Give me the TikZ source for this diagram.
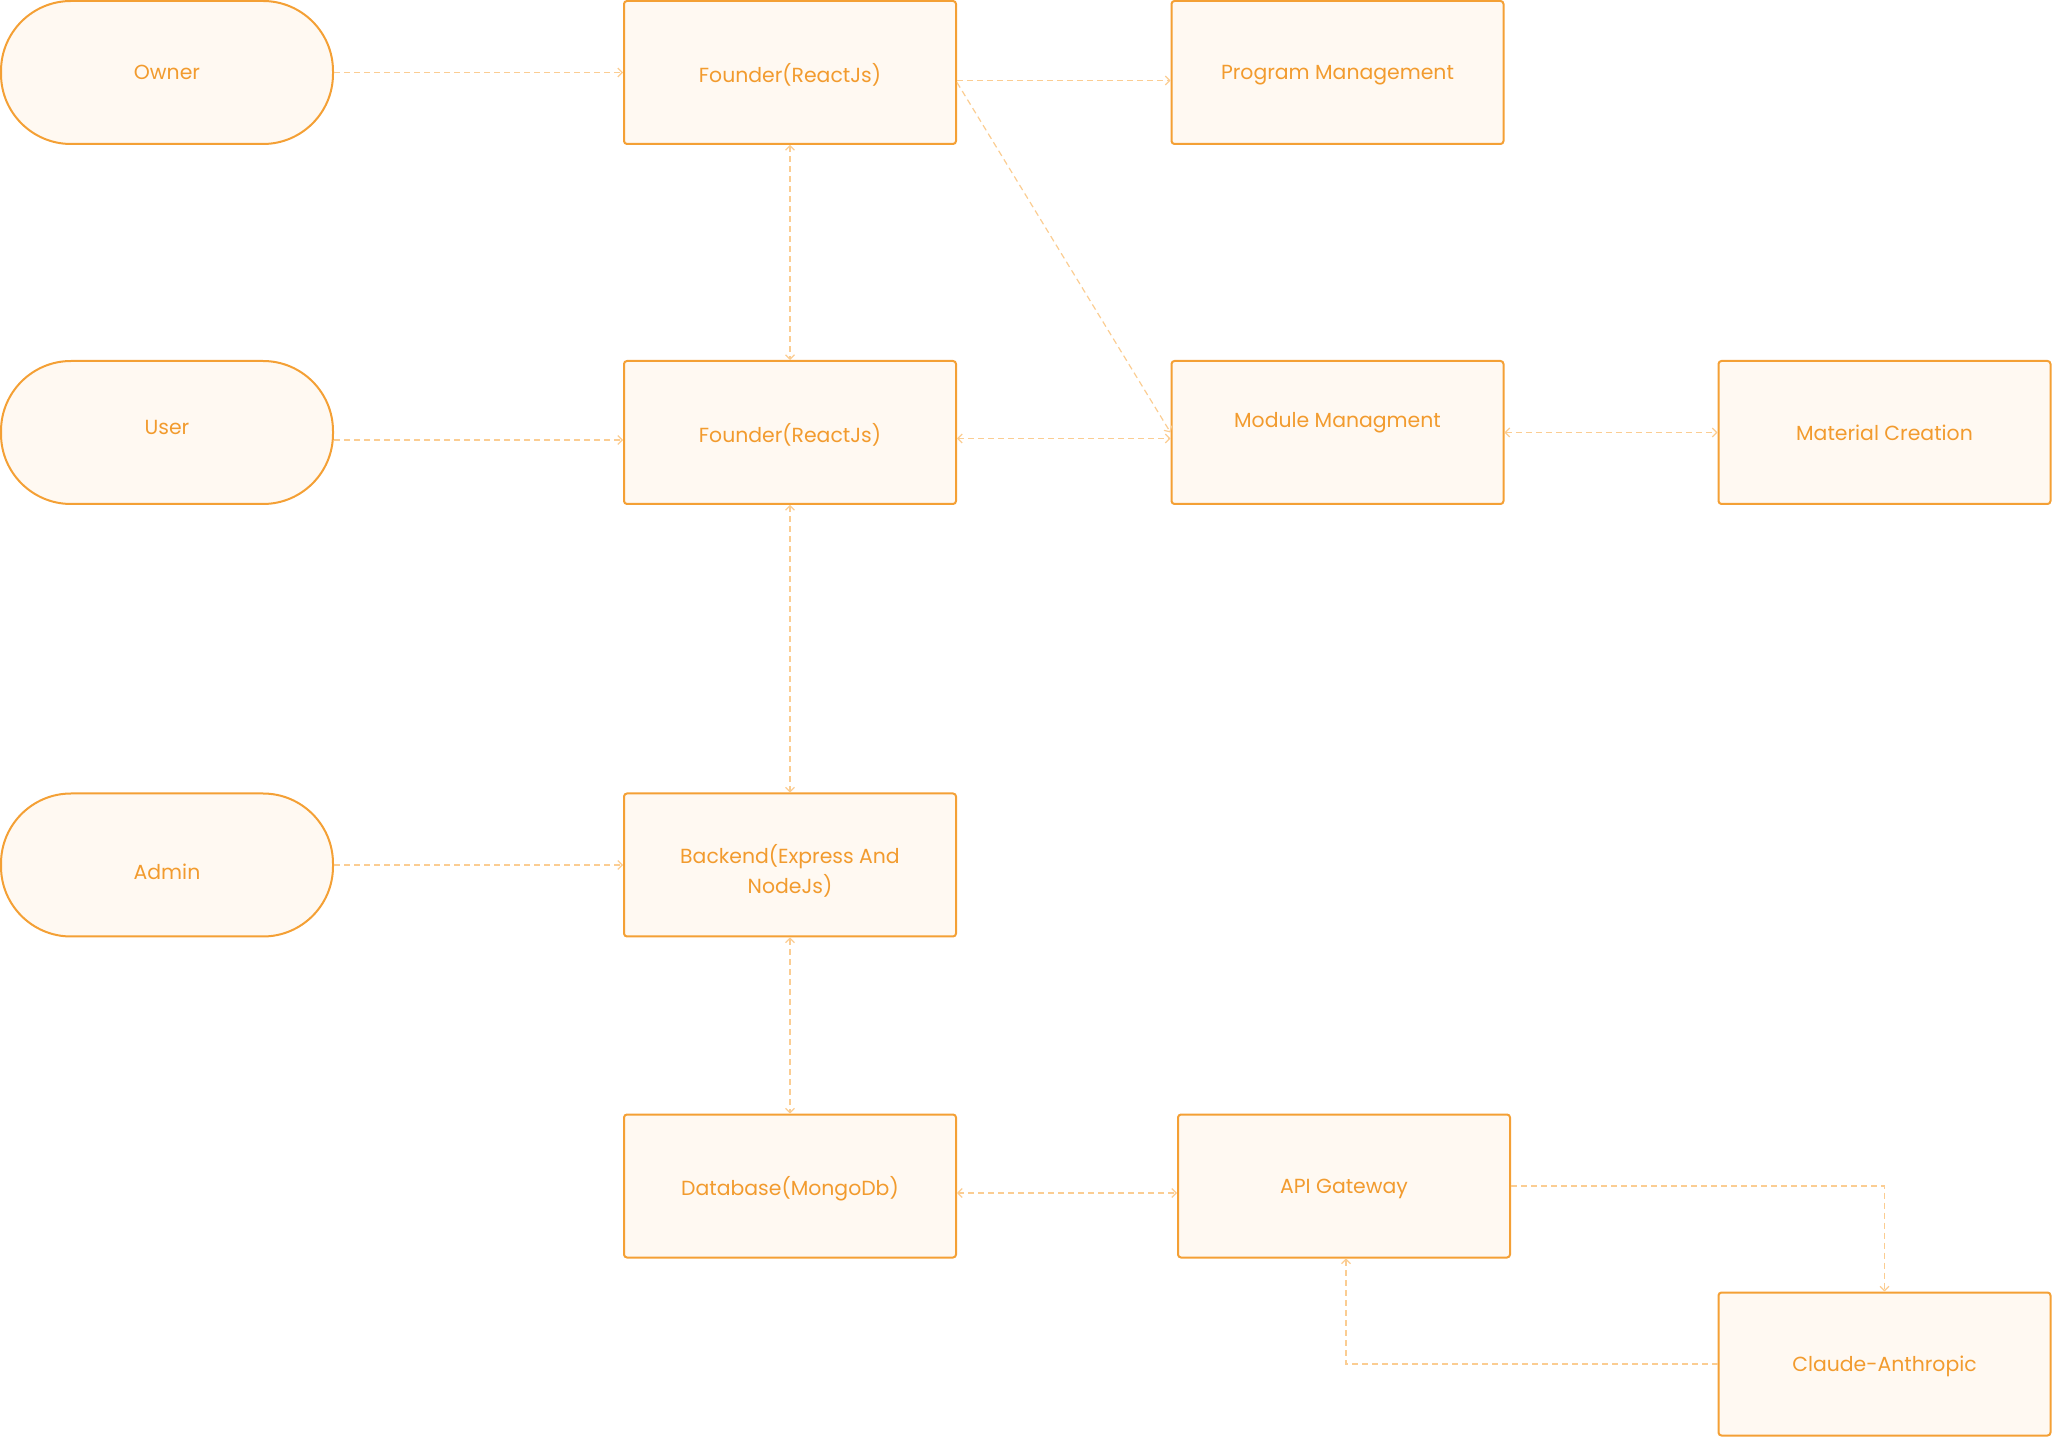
\documentclass[tikz,border=0pt]{standalone}
\usepackage{fontspec}
\setmainfont{Poppins}
\usepackage{tikz}
\usetikzlibrary{
  arrows.meta,%
  positioning,%
  calc
}
\definecolor{boxline}{HTML}{F4A035}
\definecolor{boxfill}{HTML}{FFF9F2}
\definecolor{linkline}{HTML}{FBCD92}
\definecolor{boxtext}{HTML}{F29B2E}
\tikzset{>={Straight Barb[length=2.2pt,width=4.5pt]}}
\tikzset{font=\fontsize{10.2pt}{13.5pt}\selectfont}
\tikzset{
  block/.style={draw=boxline, fill=boxfill, line width=1pt, rounded corners=1.5pt,
    minimum width=166pt, minimum height=71.5pt, text=boxtext, align=center,
    text depth=0pt},
  actor/.style={block, rounded corners=35pt},
  link/.style={draw=linkline, line width=0.6pt, dash pattern=on 3pt off 2pt}
}
\begin{document}
\begin{tikzpicture}[x=0.5pt, y=-0.5pt]
      \useasboundingbox (0, 0) rectangle (2053, 1438);%
      % actors on the left
      \node [actor] (owner) at (167, 72.5) {Owner};%
      \node [actor] (user) at (167, 432.5) {\raisebox{2.75pt}[\height][\depth]{User}};%
      \node [actor] (admin) at (167, 865) {\raisebox{-3.5pt}[\height][\depth]{Admin}};%
      % middle column
      \node [block] (front1) at (790, 72.5) {Founder(ReactJs)};%
      \node [block] (front2) at (790, 432.5) {Founder(ReactJs)};%
      \node [block] (backend) at (790, 865) {\raisebox{-2pt}[\height][\depth]{\shortstack{Backend(Express And\\NodeJs)}}};%
      \node [block] (db) at (790, 1186) {Database(MongoDb)};%
      % right side
      \node [block] (program) at (1337.5, 72.5) {Program Management};%
      \node [block] (module) at (1337.5, 432.5) {\raisebox{6.5pt}[\height][\depth]{Module Managment}};%
      \node [block] (material) at (1884.5, 432.5) {Material Creation};%
      \node [block] (api) at (1344, 1186) {API Gateway};%
      \node [block] (claude) at (1884.5, 1364) {Claude-Anthropic};%
      % connectors
      \draw [link, ->] (owner.east) -- (front1.west);%
      \draw [link, ->] ([yshift=-3.75pt]user.east) -- ([yshift=-3.75pt]front2.west);%
      \draw [link, ->] (admin.east) -- (backend.west);%
      \draw [link, ->] ([yshift=-4pt]front1.east) -- ([yshift=-4pt]program.west);%
      \draw [link, ->] ([yshift=-5pt]front1.east) -- (module.west);%
      \draw [link, <->] (front1.south) -- (front2.north);%
      \draw [link, <->] ([yshift=-3pt]front2.east) -- ([yshift=-3pt]module.west);%
      \draw [link, <->] (module.east) -- (material.west);%
      \draw [link, <->] (front2.south) -- (backend.north);%
      \draw [link, <->] (backend.south) -- (db.north);%
      \draw [link, <->] ([yshift=-3.5pt]db.east) -- ([yshift=-3.5pt]api.west);%
      \draw [link, ->] (api.east) -| (claude.north);%
      \draw [link, ->] (claude.west) -| ([xshift=1pt]api.south);%
\end{tikzpicture}
\end{document}
